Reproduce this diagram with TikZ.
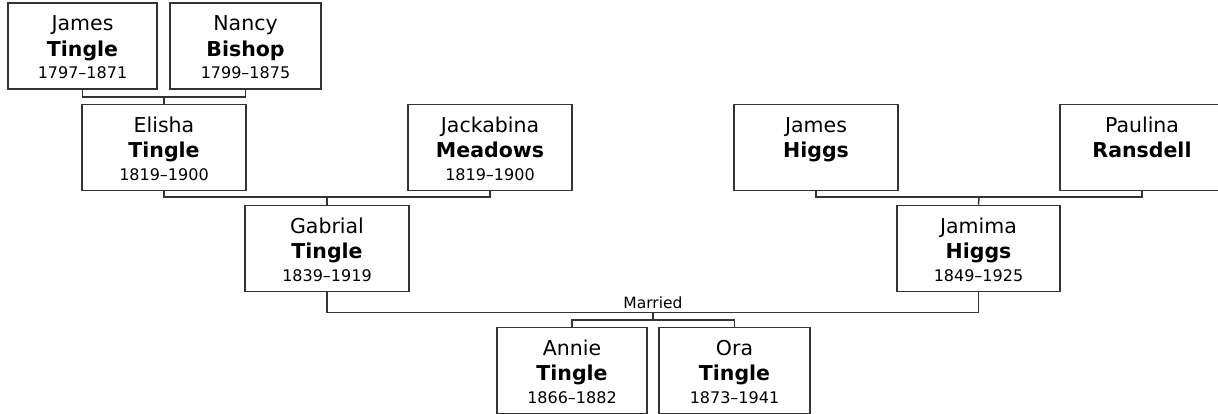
\documentclass[tikz,border=0pt]{standalone}
\usepackage{fontspec}
\setmainfont{DejaVu Sans}
\definecolor{linec}{HTML}{333333}
\newcommand{\pname}[3]{\rule{0pt}{18pt}#1\\\textbf{#2}\\[-3pt]\fontsize{16}{22.5}\selectfont #3}
\begin{document}
\begin{tikzpicture}[x=1pt,y=-1pt,
  person/.style={draw=linec, line width=1.3pt, rectangle, minimum height=86pt, inner sep=0pt, align=center, text=black, font=\fontsize{20.5}{25.5}\selectfont},
  link/.style={draw=linec, line width=1.5pt},
  w149/.style={minimum width=149pt},
  w151/.style={minimum width=151pt},
  w164/.style={minimum width=164pt},
  w150/.style={minimum width=150pt}]
\useasboundingbox (0,0) rectangle (1218,413);
\clip (0,0) rectangle (1218,413);
% generation 1
\node[person,w149] (jt) at (82.5,46) {\pname{James}{Tingle}{1797–1871}};
\node[person,w151] (nb) at (245.5,46) {\pname{Nancy}{Bishop}{1799–1875}};
% generation 2
\node[person,w164] (et) at (164,147.3) {\pname{Elisha}{Tingle}{1819–1900}};
\node[person,w164] (jm) at (490,147.3) {\pname{Jackabina}{Meadows}{1819–1900}};
\node[person,w164] (jh) at (816,147.3) {\pname{James}{Higgs}{\phantom{1819–1900}}};
\node[person,w164] (pr) at (1142,147.3) {\pname{Paulina}{Ransdell}{\phantom{1819–1900}}};
% generation 3
\node[person,w164] (gt) at (327,248.3) {\pname{Gabrial}{Tingle}{1839–1919}};
\node[person,minimum width=163pt] (jhi) at (978.5,248.3) {\pname{Jamima}{Higgs}{1849–1925}};
% generation 4
\node[person,w150] (at) at (572,370.5) {\pname{Annie}{Tingle}{1866–1882}};
\node[person,w151] (ot) at (734.5,370.5) {\pname{Ora}{Tingle}{1873–1941}};
% junctions
\coordinate (j1) at (164,97);
\coordinate (j2) at (327,197);
\coordinate (j3) at (979,197);
\coordinate (j4) at (653,312.5);
\coordinate (j5) at (653,320);
% connectors
\draw[link] (jt.south) |- (j1) -| (nb.south);
\draw[link] (j1) -- (et.north);
\draw[link] (et.south) |- (j2) -| (jm.south);
\draw[link] (j2) -- (gt.north);
\draw[link] (jh.south) |- (j3) -| (pr.south);
\draw[link] (j3) -- (jhi.north);
\draw[link] (gt.south) |- (j4) -| (jhi.south);
\draw[link] (j4) -- (j5);
\draw[link] (at.north) |- (j5) -| (ot.north);
\node[anchor=base, inner sep=0pt, font=\fontsize{15.5}{18}\selectfont] (married) at (653,308.3) {Married};
\end{tikzpicture}
\end{document}
